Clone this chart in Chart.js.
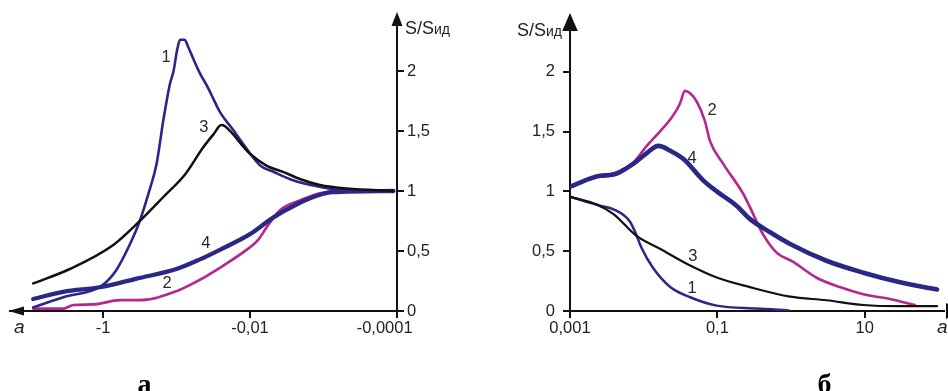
<!DOCTYPE html>
<html><head><meta charset="utf-8">
<script src="https://cdn.jsdelivr.net/npm/chart.js@4.4.0/dist/chart.umd.min.js"></script>
<style>
html,body{margin:0;padding:0;background:#fff;width:948px;height:391px;overflow:hidden}
canvas{position:absolute;top:0}
#cA{left:0}#cB{left:474px}
</style></head><body>
<canvas id="cA" width="474" height="391"></canvas>
<canvas id="cB" width="474" height="391"></canvas>
<script>
// ---------- panel а (a < 0) ----------
const aL1 = [-8.9, -3.47, -1.05, -0.66, -0.427, -0.316, -0.24, -0.186, -0.151, -0.123, -0.1096, -0.0977, -0.0891, -0.0776, -0.0692, -0.0589, -0.0479, -0.0372, -0.0316, -0.0257, -0.017, -0.0123, -0.0072, -0.0048, -0.0026, -0.00123, -0.0006, -0.000112];
const sL1 = [0.03, 0.115, 0.21, 0.34, 0.56, 0.75, 0.98, 1.23, 1.59, 1.89, 2.0, 2.18, 2.26, 2.26, 2.2, 2.1, 1.98, 1.86, 1.77, 1.66, 1.51, 1.39, 1.21, 1.16, 1.09, 1.04, 1.01, 1.0];
const aL2 = [-8.9, -3.47, -2.51, -1.35, -0.59, -0.316, -0.1, -0.048, -0.0257, -0.0123, -0.0078, -0.0059, -0.0039, -0.0021, -0.00112, -0.0006, -0.000316];
const sL2 = [0.02, 0.02, 0.05, 0.055, 0.09, 0.09, 0.165, 0.26, 0.36, 0.49, 0.59, 0.70, 0.84, 0.92, 0.98, 1.0, 1.0];
const aL3 = [-8.9, -2.82, -0.724, -0.316, -0.151, -0.076, -0.0437, -0.0316, -0.0245, -0.0219, -0.01, -0.0059, -0.00355, -0.0021, -0.00112, -0.00048, -0.000112];
const sL3 = [0.23, 0.35, 0.55, 0.75, 0.95, 1.14, 1.36, 1.47, 1.55, 1.54, 1.31, 1.21, 1.16, 1.10, 1.05, 1.02, 1.0];
const aL4 = [-8.9, -3.47, -1.05, -0.347, -0.1, -0.048, -0.0257, -0.01, -0.0048, -0.0023, -0.00123, -0.00074, -0.000112];
const sL4 = [0.10, 0.16, 0.20, 0.27, 0.35, 0.43, 0.51, 0.64, 0.78, 0.89, 0.96, 0.99, 1.0];
const xTicksL = [-1, -0.01, -0.0001];
const xTickLabelsL = ['-1', '-0,01', '-0,0001'];

// ---------- panel б (a > 0) ----------
const aR1 = [0.001, 0.00257, 0.0039, 0.00646, 0.0079, 0.0093, 0.0132, 0.0229, 0.0427, 0.098, 0.339, 0.93];
const sR1 = [0.955, 0.88, 0.85, 0.75, 0.64, 0.53, 0.365, 0.20, 0.115, 0.045, 0.02, 0.005];
const aR2 = [0.001, 0.00257, 0.0039, 0.0072, 0.011, 0.0166, 0.0229, 0.0309, 0.0363, 0.0427, 0.0525, 0.0676, 0.0794, 0.12, 0.224, 0.275, 0.417, 0.631, 1.07, 2.19, 4.57, 9.55, 21.9, 47.9];
const sR2 = [1.04, 1.13, 1.15, 1.24, 1.38, 1.50, 1.60, 1.73, 1.84, 1.82, 1.75, 1.59, 1.42, 1.23, 0.98, 0.87, 0.64, 0.49, 0.41, 0.28, 0.20, 0.14, 0.10, 0.05];
const aR3 = [0.001, 0.00229, 0.0039, 0.0079, 0.0166, 0.0427, 0.098, 0.275, 0.97, 3.02, 9.55, 30.2, 95.5];
const sR3 = [0.955, 0.89, 0.81, 0.63, 0.52, 0.38, 0.28, 0.20, 0.12, 0.09, 0.05, 0.04, 0.04];
const aR4 = [0.001, 0.00257, 0.0039, 0.0072, 0.011, 0.0158, 0.0229, 0.0347, 0.0646, 0.098, 0.182, 0.275, 0.513, 0.97, 3.02, 9.55, 30.2, 95.5];
const sR4 = [1.04, 1.13, 1.14, 1.23, 1.32, 1.38, 1.34, 1.27, 1.09, 1.0, 0.88, 0.77, 0.66, 0.56, 0.42, 0.32, 0.24, 0.18];
const xTicksR = [0.001, 0.1, 10];
const xTickLabelsR = ['0,001', '0,1', '10'];

const yTicks = [0, 0.5, 1, 1.5, 2];
const yTickLabels = ['0', '0,5', '1', '1,5', '2'];

// curve number labels (in data coordinates)
const curveNames = ['1', '2', '3', '4'];
const nameAL = [-0.139, -0.1346, -0.0423, -0.0398];
const nameSL = [2.11, 0.23, 1.53, 0.56];
const nameAR = [0.0452, 0.0845, 0.0466, 0.0452];
const nameSR = [0.19, 1.68, 0.46, 1.275];

const BLUE = '#2b2786', MAG = '#b3288a', BLK = '#111111';
const FONT = "'Liberation Sans', Arial, sans-serif";
const TICKFONT = { family: FONT, size: 16.5 };

function pts(a, s, neg) { return a.map((v, i) => ({ x: neg ? Math.abs(v) : v, y: s[i] })); }
function ds(a, s, neg, color, w, order) {
  return { data: pts(a, s, neg), borderColor: color, borderWidth: w, pointRadius: 0,
    fill: false, cubicInterpolationMode: 'monotone', order: order, borderJoinStyle: 'round', borderCapStyle: 'round' };
}
function tri(ctx, p1, p2, p3) {
  ctx.beginPath(); ctx.moveTo(p1[0], p1[1]); ctx.lineTo(p2[0], p2[1]); ctx.lineTo(p3[0], p3[1]); ctx.closePath(); ctx.fill();
}
function drawNames(chart, A, S, neg) {
  const ctx = chart.ctx, xs = chart.scales.x, ys = chart.scales.y;
  ctx.font = '16.5px ' + FONT; ctx.fillStyle = '#2a2a2a'; ctx.textAlign = 'center'; ctx.textBaseline = 'middle';
  curveNames.forEach((n, i) => ctx.fillText(n, xs.getPixelForValue(neg ? Math.abs(A[i]) : A[i]), ys.getPixelForValue(S[i])));
}

const commonAxis = {
  grid: { display: true, drawOnChartArea: false, drawTicks: true, tickLength: 7, lineWidth: 2, tickWidth: 2, tickColor: BLK, color: BLK },
  border: { display: true, color: BLK, width: 2 },
};

const decorL = {
  id: 'decorL',
  afterDraw(chart) {
    const ctx = chart.ctx, ca = chart.chartArea;
    ctx.save();
    ctx.fillStyle = BLK;
    tri(ctx, [ca.right, ca.top - 5], [ca.right - 5.5, ca.top + 9], [ca.right + 5.5, ca.top + 9]);
    tri(ctx, [ca.left - 1.5, ca.bottom], [ca.left + 14, ca.bottom - 4.5], [ca.left + 14, ca.bottom + 4.5]);
    ctx.fillStyle = '#222'; ctx.textAlign = 'left'; ctx.textBaseline = 'alphabetic';
    ctx.font = '18px ' + FONT;
    const x0 = ca.right + 8; ctx.fillText('S/S', x0, 34);
    const w = ctx.measureText('S/S').width;
    ctx.font = '14px ' + FONT; ctx.fillText('ид', x0 + w, 34);
    ctx.font = 'italic 19px ' + FONT; ctx.fillText('a', 14, 333);
    ctx.fillStyle = '#000'; ctx.textAlign = 'center';
    ctx.font = "bold 28px 'Liberation Serif', 'Times New Roman', serif"; ctx.fillText('а', 144.5, 393);
    drawNames(chart, nameAL, nameSL, true);
    ctx.restore();
  }
};
const decorR = {
  id: 'decorR',
  afterDraw(chart) {
    const ctx = chart.ctx, ca = chart.chartArea;
    ctx.save();
    ctx.fillStyle = BLK;
    tri(ctx, [ca.left, 13], [ca.left - 7.8, 31], [ca.left + 7.8, 31]);
    tri(ctx, [ca.right + 20, ca.bottom], [ca.right + 2, ca.bottom - 8], [ca.right + 2, ca.bottom + 8]);
    ctx.fillStyle = '#222'; ctx.textBaseline = 'alphabetic'; ctx.textAlign = 'right';
    const xr = ca.left - 8;
    ctx.font = '14px ' + FONT; ctx.fillText('ид', xr, 36);
    const w = ctx.measureText('ид').width;
    ctx.font = '18px ' + FONT; ctx.fillText('S/S', xr - w, 36);
    ctx.textAlign = 'left'; ctx.font = 'italic 19px ' + FONT; ctx.fillText('a', 463, 333);
    ctx.fillStyle = '#000'; ctx.textAlign = 'center';
    ctx.font = "bold 28px 'Liberation Serif', 'Times New Roman', serif"; ctx.fillText('б', 350.5, 393);
    drawNames(chart, nameAR, nameSR, false);
    ctx.restore();
  }
};

function yAxis(pos, width, pad) {
  return Object.assign({}, commonAxis, {
    type: 'linear', position: pos, min: 0, max: 2.45,
    afterBuildTicks: s => { s.ticks = yTicks.map(v => ({ value: v })); },
    afterFit: s => { s.width = width; },
    ticks: { padding: pad, color: '#222', font: TICKFONT, callback: (v, i) => yTickLabels[i] }
  });
}

new Chart(document.getElementById('cA'), {
  type: 'line',
  data: { datasets: [
    ds(aL3, sL3, true, BLK, 2.5, 0),
    ds(aL4, sL4, true, BLUE, 4.3, 1),
    ds(aL1, sL1, true, BLUE, 2.6, 2),
    ds(aL2, sL2, true, MAG, 2.7, 3),
  ] },
  options: {
    responsive: false, animation: false, devicePixelRatio: 1,
    layout: { autoPadding: false, padding: { left: 10, right: 0, top: 17, bottom: 0 } },
    plugins: { legend: { display: false }, tooltip: { enabled: false } },
    scales: {
      x: Object.assign({}, commonAxis, {
        type: 'logarithmic', reverse: true, min: 0.0001, max: 18.4,
        afterBuildTicks: s => { s.ticks = xTicksL.map(v => ({ value: Math.abs(v) })); },
        afterFit: s => { s.height = 80; },
        // last label sits left of its tick, as in the original figure
        ticks: { padding: 1, color: '#222', maxRotation: 0, autoSkip: false, font: TICKFONT,
          callback: (v, i) => i === xTickLabelsL.length - 1 ? xTickLabelsL[i] + '\u2002\u2002\u2002' : xTickLabelsL[i] }
      }),
      y: yAxis('right', 77, 3)
    }
  },
  plugins: [decorL]
});

new Chart(document.getElementById('cB'), {
  type: 'line',
  data: { datasets: [
    ds(aR3, sR3, false, BLK, 2.2, 0),
    ds(aR4, sR4, false, BLUE, 4.6, 1),
    ds(aR1, sR1, false, BLUE, 2.5, 2),
    ds(aR2, sR2, false, MAG, 2.6, 3),
  ] },
  options: {
    responsive: false, animation: false, devicePixelRatio: 1,
    layout: { autoPadding: false, padding: { left: 0, right: 4, top: 17, bottom: 0 } },
    plugins: { legend: { display: false }, tooltip: { enabled: false } },
    scales: {
      x: Object.assign({}, commonAxis, {
        type: 'logarithmic', min: 0.001, max: 118.8,
        afterBuildTicks: s => { s.ticks = xTicksR.map(v => ({ value: v })); },
        afterFit: s => { s.height = 80; },
        ticks: { padding: 1, color: '#222', maxRotation: 0, autoSkip: false, font: TICKFONT, callback: (v, i) => xTickLabelsR[i] }
      }),
      y: yAxis('left', 96, 8)
    }
  },
  plugins: [decorR]
});
</script>
</body></html>
